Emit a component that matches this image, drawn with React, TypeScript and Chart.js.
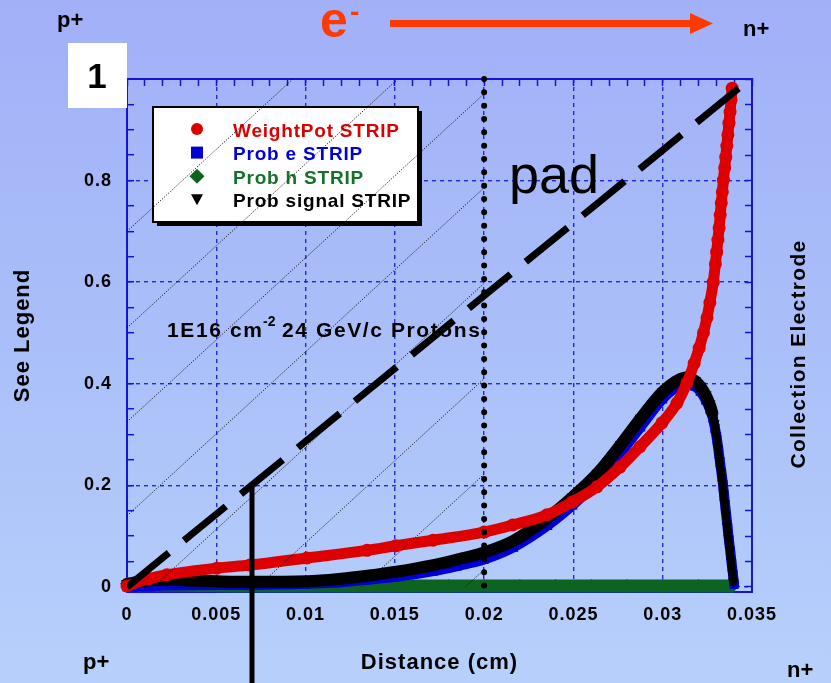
import { useEffect, useRef } from "react";
import { Chart, registerables } from "chart.js";

Chart.register(...registerables);

const FONT = '"Liberation Sans", Arial, Helvetica, sans-serif';

// ---- series: depth in the detector (cm) against each quantity ----
const weightX = [0, 0.0012, 0.00224, 0.00504, 0.00689, 0.01008, 0.01344, 0.01506, 0.01714, 0.02, 0.0216, 0.02352, 0.02492, 0.02632, 0.02761, 0.02873, 0.02996, 0.0308, 0.03136, 0.03176, 0.03204, 0.03228, 0.03248, 0.03264, 0.03283, 0.03295, 0.03302, 0.03309, 0.03316, 0.03322, 0.03328, 0.03334, 0.0334, 0.03347, 0.03353, 0.03359, 0.03365, 0.03371, 0.03377, 0.03383, 0.03389];
const weightY = [0.002, 0.016, 0.024, 0.037, 0.043, 0.057, 0.072, 0.081, 0.092, 0.108, 0.122, 0.142, 0.167, 0.197, 0.236, 0.276, 0.323, 0.362, 0.402, 0.44, 0.47, 0.5, 0.53, 0.56, 0.6, 0.636, 0.659, 0.683, 0.707, 0.732, 0.756, 0.778, 0.801, 0.825, 0.846, 0.868, 0.89, 0.913, 0.935, 0.959, 0.982];

const probEX = [0, 0.002, 0.005, 0.0069, 0.0101, 0.012, 0.01346, 0.0151, 0.01716, 0.0185, 0.02, 0.02165, 0.02356, 0.02496, 0.02636, 0.02765, 0.02877, 0.03, 0.03085, 0.0314, 0.0318, 0.0321, 0.0324, 0.03264, 0.03281, 0.03293, 0.03304, 0.03313, 0.03321, 0.0333, 0.03338, 0.03344, 0.0335, 0.03357, 0.03364, 0.03371, 0.03379, 0.03386, 0.03394, 0.034];
const probEY = [0, 0.003, 0.004, 0.004, 0.006, 0.009, 0.014, 0.02, 0.031, 0.041, 0.054, 0.078, 0.121, 0.161, 0.208, 0.263, 0.315, 0.37, 0.395, 0.401, 0.395, 0.385, 0.368, 0.35, 0.332, 0.312, 0.29, 0.267, 0.245, 0.222, 0.2, 0.18, 0.16, 0.138, 0.115, 0.092, 0.069, 0.046, 0.023, 0.005];

const probHX = [0, 0.001, 0.002, 0.004, 0.006, 0.008, 0.01, 0.012, 0.014, 0.016, 0.018, 0.02, 0.022, 0.024, 0.026, 0.028, 0.03, 0.032, 0.0339];
const probHY = [0.006, 0.005, 0.004, 0.003, 0.002, 0.002, 0.002, 0.002, 0.002, 0.002, 0.002, 0.002, 0.002, 0.002, 0.002, 0.002, 0.002, 0.002, 0.002];

const signalX = [0, 0.001, 0.00224, 0.004, 0.00505, 0.0069, 0.0101, 0.012, 0.01346, 0.0151, 0.01716, 0.0185, 0.02, 0.02165, 0.02356, 0.02496, 0.02636, 0.02765, 0.02877, 0.03, 0.03085, 0.0314, 0.0318, 0.0321, 0.0324, 0.03262, 0.03278, 0.0329, 0.033, 0.03309, 0.03317, 0.03326, 0.03334, 0.0334, 0.03346, 0.03353, 0.0336, 0.03367, 0.03375, 0.03382, 0.0339, 0.03395];
const signalY = [0.006, 0.012, 0.014, 0.012, 0.011, 0.01, 0.011, 0.016, 0.022, 0.03, 0.043, 0.054, 0.068, 0.091, 0.136, 0.177, 0.224, 0.28, 0.332, 0.384, 0.407, 0.413, 0.406, 0.395, 0.378, 0.36, 0.342, 0.322, 0.298, 0.273, 0.25, 0.227, 0.204, 0.184, 0.165, 0.142, 0.119, 0.096, 0.073, 0.05, 0.027, 0.01];

const seriesLabels = ["WeightPot STRIP", "Prob e STRIP", "Prob h STRIP", "Prob signal STRIP"];
const seriesColors = ["#dc0000", "#0000d4", "#0d6421", "#000000"];
const legendTextColors = ["#dc0000", "#0000dc", "#137128", "#000000"];

// ---- guide lines ----
const padLineX = [0, 0.03433];
const padLineY = [0, 0.984];
const depletionX = [0.02, 0.02];
const depletionY = [1.0, -0.008];
const markerX = [0.007, 0.007];
const markerY = [0.2, -0.25];

// thin hatching over the left part of the sensor
const hatchX0 = [0, 0, 0, 0, 0.00149, 0.00731, 0.01313, 0.01895];
const hatchY0 = [0.70, 0.51, 0.325, 0.14, 0, 0, 0, 0];
const hatchX1 = [0.00929, 0.01517, 0.02, 0.02, 0.02, 0.02, 0.02, 0.02];
const hatchY1 = [1.0, 1.0, 0.971, 0.786, 0.598, 0.41, 0.222, 0.034];

// ---- axes ----
const xMin = 0;
const xMax = 0.035;
const xMinorStep = 0.001;
const xMajorStep = 0.005;
const yMin = -0.01;
const yMax = 1.0;
const yMinorStep = 0.05;
const yMajorStep = 0.2;

const AXIS_BLUE = "#1414d2";
const GRID_BLUE = "#2626e0";
const ORANGE = "#ff3a00";

const pts = (xs: number[], ys: number[]) => xs.map((x, i) => ({ x, y: ys[i] }));
const isMultiple = (v: number, step: number) => Math.abs(v / step - Math.round(v / step)) < 1e-6;

const letterSpacingPlugin = {
  id: "letterSpacing",
  beforeDraw(chart: any) {
    chart.ctx.letterSpacing = "1px";
  },
};

const stripLegendPlugin = {
  id: "stripLegend",
  beforeDatasetsDraw(chart: any) {
    const ctx = chart.ctx as CanvasRenderingContext2D & { letterSpacing?: string };
    const area = chart.chartArea;
    const left = area.left + 26;
    const top = area.top + 28;
    const w = 265;
    const h = 115;
    ctx.save();
    ctx.fillStyle = "#000";
    ctx.fillRect(left + 4, top + 4, w, h);
    ctx.fillStyle = "#fff";
    ctx.fillRect(left, top, w, h);
    ctx.strokeStyle = "#000";
    ctx.lineWidth = 2;
    ctx.strokeRect(left, top, w, h);

    const symX = left + 44;
    const textX = left + 80;
    seriesLabels.forEach((label, i) => {
      const cy = top + 22 + i * 23.6;
      ctx.fillStyle = seriesColors[i];
      ctx.beginPath();
      if (i === 0) {
        ctx.arc(symX, cy, 6, 0, Math.PI * 2);
      } else if (i === 1) {
        ctx.rect(symX - 6, cy - 6, 12, 12);
      } else if (i === 2) {
        ctx.moveTo(symX, cy - 7.5);
        ctx.lineTo(symX + 7.5, cy);
        ctx.lineTo(symX, cy + 7.5);
        ctx.lineTo(symX - 7.5, cy);
        ctx.closePath();
      } else {
        ctx.moveTo(symX - 6, cy - 5.5);
        ctx.lineTo(symX + 6, cy - 5.5);
        ctx.lineTo(symX, cy + 5.5);
        ctx.closePath();
      }
      ctx.fill();
      ctx.fillStyle = legendTextColors[i];
      ctx.font = `bold 19px ${FONT}`;
      ctx.letterSpacing = "0.8px";
      ctx.textAlign = "left";
      ctx.textBaseline = "alphabetic";
      ctx.fillText(label, textX, cy + 7.5);
    });
    ctx.restore();
  },
};

export default function App() {
  const canvasRef = useRef<HTMLCanvasElement>(null);

  useEffect(() => {
    const canvas = canvasRef.current;
    if (!canvas) return;

    const tickFont = { family: FONT, size: 18, weight: "bold" as const };

    const hatchSets = hatchX0.map((x0, i) => ({
      label: `hatch${i}`,
      data: [
        { x: x0, y: hatchY0[i] },
        { x: hatchX1[i], y: hatchY1[i] },
      ],
      showLine: true,
      borderColor: "rgba(15,15,15,0.95)",
      borderWidth: 1,
      borderDash: [1.2, 1.6],
      pointRadius: 0,
      order: 2,
    }));

    const chart = new Chart(canvas, {
      type: "scatter",
      data: {
        datasets: [
          {
            label: "pad",
            data: pts(padLineX, padLineY),
            showLine: true,
            borderColor: "#000",
            borderWidth: 7,
            borderDash: [54, 19.5],
            borderCapStyle: "butt",
            pointRadius: 0,
            order: 0,
          },
          {
            label: "depletion",
            data: pts(depletionX, depletionY),
            showLine: true,
            borderColor: "#000",
            borderWidth: 6,
            borderDash: [0, 13.33],
            borderCapStyle: "round",
            pointRadius: 0,
            clip: false,
            order: 0,
          },
          {
            label: "marker",
            data: pts(markerX, markerY),
            showLine: true,
            borderColor: "#000",
            borderWidth: 5,
            pointRadius: 0,
            clip: false,
            order: 0,
          },
          ...hatchSets,
          {
            label: seriesLabels[3],
            data: pts(signalX, signalY),
            showLine: true,
            borderColor: seriesColors[3],
            backgroundColor: seriesColors[3],
            borderWidth: 12,
            segment: {
              borderWidth: (c: any) => (c.p0.parsed.x >= 0.03278 ? 8 : 12),
            },
            borderCapStyle: "round",
            borderJoinStyle: "round",
            cubicInterpolationMode: "monotone",
            pointStyle: "triangle",
            pointRotation: 180,
            pointRadius: (c: any) => (c.parsed && c.parsed.x >= 0.03278 ? 6 : 7),
            pointBorderWidth: 0,
            clip: false,
            order: 4,
          },
          {
            label: seriesLabels[0],
            data: pts(weightX, weightY),
            showLine: true,
            borderColor: seriesColors[0],
            backgroundColor: seriesColors[0],
            borderWidth: 11,
            borderCapStyle: "round",
            borderJoinStyle: "round",
            cubicInterpolationMode: "monotone",
            pointStyle: "circle",
            pointRadius: 6.5,
            pointBorderWidth: 0,
            clip: false,
            order: 3,
          },
          {
            label: seriesLabels[1],
            data: pts(probEX, probEY),
            showLine: true,
            borderColor: seriesColors[1],
            backgroundColor: seriesColors[1],
            borderWidth: 10,
            borderCapStyle: "round",
            borderJoinStyle: "round",
            cubicInterpolationMode: "monotone",
            pointStyle: "rect",
            pointRadius: 6.4,
            pointBorderWidth: 0,
            clip: false,
            order: 5,
          },
          {
            label: seriesLabels[2],
            data: pts(probHX, probHY),
            showLine: true,
            borderColor: seriesColors[2],
            backgroundColor: seriesColors[2],
            borderWidth: 13,
            borderCapStyle: "butt",
            cubicInterpolationMode: "monotone",
            pointStyle: "rectRot",
            pointRadius: 7,
            pointBorderWidth: 0,
            clip: false,
            order: 6,
          },
        ],
      },
      options: {
        animation: false,
        responsive: false,
        events: [],
        layout: { padding: 0 },
        plugins: {
          legend: { display: false },
          tooltip: { enabled: false },
        },
        scales: {
          x: {
            type: "linear",
            position: "bottom",
            min: xMin,
            max: xMax,
            afterFit: (s: any) => {
              s.height = 91;
            },
            ticks: {
              stepSize: xMinorStep,
              includeBounds: false,
              autoSkip: false,
              maxRotation: 0,
              padding: 19,
              color: "#000",
              font: tickFont,
              callback: (v: any) => (isMultiple(Number(v), xMajorStep) ? String(+Number(v).toFixed(4)) : ""),
            },
            grid: {
              color: (c: any) => (isMultiple(c.tick.value, xMajorStep) ? GRID_BLUE : "rgba(0,0,0,0)"),
              lineWidth: 1.4,
              tickColor: AXIS_BLUE,
              tickLength: -7,
              tickWidth: 1.5,
              tickBorderDash: [],
            },
            border: { color: AXIS_BLUE, width: 2, dash: [4, 4] },
            title: {
              display: true,
              text: "Distance (cm)",
              color: "#000",
              font: { family: FONT, size: 22, weight: "bold" },
              padding: { top: 0, bottom: 7 },
            },
          },
          x2: {
            type: "linear",
            position: "top",
            min: xMin,
            max: xMax,
            afterFit: (s: any) => {
              s.height = 79;
            },
            ticks: { display: false, stepSize: xMinorStep, includeBounds: false, autoSkip: false },
            grid: {
              drawOnChartArea: false,
              tickColor: AXIS_BLUE,
              tickLength: -7,
              tickWidth: 1.5,
              tickBorderDash: [],
            },
            border: { color: AXIS_BLUE, width: 2 },
          },
          y: {
            type: "linear",
            position: "left",
            min: yMin,
            max: yMax,
            afterFit: (s: any) => {
              s.width = 127;
            },
            ticks: {
              stepSize: yMinorStep,
              includeBounds: false,
              autoSkip: false,
              padding: 22,
              color: "#000",
              font: tickFont,
              callback: (v: any) => (isMultiple(Number(v), yMajorStep) ? String(+Number(v).toFixed(2)) : ""),
            },
            grid: {
              color: (c: any) => (isMultiple(c.tick.value, yMajorStep) ? GRID_BLUE : "rgba(0,0,0,0)"),
              lineWidth: 1.4,
              tickColor: AXIS_BLUE,
              tickLength: -7,
              tickWidth: 1.5,
              tickBorderDash: [],
            },
            border: { color: AXIS_BLUE, width: 2, dash: [4, 4] },
            title: {
              display: true,
              text: "See Legend",
              color: "#000",
              font: { family: FONT, size: 22, weight: "bold" },
              padding: { top: 10, bottom: 0 },
            },
          },
          y2: {
            type: "linear",
            position: "right",
            min: yMin,
            max: yMax,
            afterFit: (s: any) => {
              s.width = 79;
            },
            ticks: { display: false, stepSize: yMinorStep, includeBounds: false, autoSkip: false },
            grid: {
              drawOnChartArea: false,
              tickColor: AXIS_BLUE,
              tickLength: -7,
              tickWidth: 1.5,
              tickBorderDash: [],
            },
            border: { color: AXIS_BLUE, width: 2 },
          },
        },
      } as any,
      plugins: [letterSpacingPlugin, stripLegendPlugin],
    });

    return () => chart.destroy();
  }, []);

  const bold = { fontFamily: FONT, fontWeight: 700 } as const;

  return (
    <div
      style={{
        position: "fixed",
        left: 0,
        top: 0,
        width: 831,
        height: 683,
        overflow: "hidden",
        background: "linear-gradient(180deg, #a2b0f8 0%, #aabff9 50%, #b7d0fb 100%)",
      }}
    >
      <canvas ref={canvasRef} width={831} height={683} style={{ position: "absolute", left: 0, top: 0 }} />
      <svg
        width={831}
        height={683}
        style={{ position: "absolute", left: 0, top: 0, pointerEvents: "none" }}
      >
        <text x={57} y={27} fontSize={22} style={bold} fill="#000">p+</text>
        <text x={743} y={36} fontSize={22} style={bold} fill="#000">n+</text>
        <text x={83} y={669} fontSize={22} style={bold} fill="#000">p+</text>
        <text x={787} y={677} fontSize={22} style={bold} fill="#000">n+</text>

        <text x={320} y={37} fontSize={50} style={bold} fill={ORANGE}>e</text>
        <text x={350} y={21} fontSize={28} style={bold} fill={ORANGE}>-</text>
        <line x1={390} y1={23.5} x2={694} y2={23.5} stroke={ORANGE} strokeWidth={7} />
        <polygon points="690,13 713,23.5 690,34" fill={ORANGE} />

        <rect x={68} y={43} width={59} height={65} fill="#fff" />
        <text x={97} y={88} fontSize={35} style={bold} textAnchor="middle" fill="#000">1</text>

        <text x={509} y={193} fontSize={54} style={{ fontFamily: FONT }} fill="#000">pad</text>

        <text x={167} y={337} fontSize={21} style={bold} letterSpacing={1.6} fill="#000">1E16 cm</text>
        <text x={263} y={326} fontSize={14} style={bold} fill="#000">-2</text>
        <text x={282} y={337} fontSize={21} style={bold} letterSpacing={1.6} fill="#000">24 GeV/c Protons</text>

        <text
          x={797}
          y={354}
          fontSize={21}
          style={bold}
          letterSpacing={1.3}
          textAnchor="middle"
          dominantBaseline="central"
          transform="rotate(-90 797 354)"
          fill="#000"
        >
          Collection Electrode
        </text>
      </svg>
    </div>
  );
}
